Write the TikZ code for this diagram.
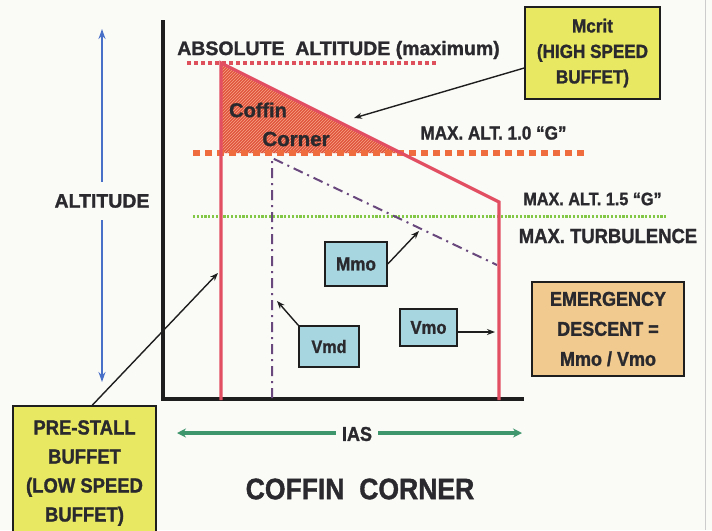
\documentclass[tikz,border=0pt]{standalone}
\usepackage{fontspec}
\setmainfont{Liberation Sans}[BoldFeatures={FakeBold=1.3}]
\newfontfamily\narrowbold{Liberation Sans}[BoldFeatures={FakeBold=1.3,FakeStretch=0.9}]
\usetikzlibrary{arrows.meta,patterns,calc}
\definecolor{bgc}{RGB}{250,250,247}
\definecolor{txt}{RGB}{42,42,46}
\definecolor{envred}{RGB}{226,78,98}
\definecolor{absred}{RGB}{222,80,92}
\definecolor{orng}{RGB}{238,108,62}
\definecolor{grn}{RGB}{130,200,70}
\definecolor{hatchc}{RGB}{226,84,60}
\definecolor{hatchl}{RGB}{246,165,135}
\definecolor{ylw}{RGB}{232,232,98}
\definecolor{lblue}{RGB}{168,214,224}
\definecolor{tanc}{RGB}{240,202,142}
\definecolor{bluear}{RGB}{72,112,200}
\definecolor{iasg}{RGB}{62,150,108}
\definecolor{ddc}{RGB}{105,72,125}
\definecolor{axc}{RGB}{30,30,30}
\newcommand\fsz[2]{\fontsize{#1}{#2}\selectfont\bfseries}
\newcommand\nsz[2]{\narrowbold\fontsize{#1}{#2}\selectfont\bfseries}
\begin{document}
\begin{tikzpicture}[x=1pt,y=-1pt,
  lbl/.style={text=txt, inner sep=0pt},
  infobox/.style={draw=axc, line width=1.5pt, align=center, text=txt, inner sep=0pt},
  ptr/.style={draw=axc, line width=1.4pt, -{Stealth[length=8pt,width=6pt]}},
  envline/.style={draw=envred, line width=3.2pt, line join=miter},
  ddline/.style={draw=ddc, line width=2pt, dash pattern=on 10pt off 5pt on 2pt off 5pt}]
\useasboundingbox (0,0) rectangle (712,530);
\fill[bgc] (0,0) rectangle (712,530);
\draw[black!20, line width=1pt] (705,0) -- (705,530);

% coordinates of the envelope
\coordinate (axTop) at (163,20);
\coordinate (axCorner) at (163,399);
\coordinate (axRight) at (524,399);
\coordinate (lBot) at (221,400);
\coordinate (lTop) at (221,63);
\coordinate (rTop) at (499,202);
\coordinate (rBot) at (499,400);
\coordinate (hatchB) at (221,153);
\coordinate (hatchR) at (400,153);

% hatched coffin corner
\fill[hatchc] (lTop) -- (hatchB) -- (hatchR) -- cycle;
\fill[pattern=north east lines, pattern color=hatchl] (lTop) -- (hatchB) -- (hatchR) -- cycle;

% dotted altitude lines
\coordinate (absL) at (187,63);
\coordinate (absR) at (438,63);
\draw[absred, line width=4pt, dash pattern=on 4pt off 3pt] (absL) -- (absR);
\coordinate (g1L) at (193,153);
\coordinate (g1R) at (584,153);
\draw[orng, line width=5.5pt, dash pattern=on 7pt off 5pt] (g1L) -- (g1R);
\coordinate (g15L) at (193,216);
\coordinate (g15R) at (666,216);
\draw[grn, line width=3pt, dash pattern=on 2.2pt off 1.6pt] (g15L) -- (g15R);

% axes
\draw[axc, line width=4pt, line join=miter] (axTop) -- (axCorner) -- (axRight);

% dash-dot lines
\coordinate (ddBot) at (272,398);
\coordinate (ddTop) at (272,158);
\coordinate (ddEnd) at (497,265);
\draw[ddline] (ddBot) -- (ddTop) -- (ddEnd);

% envelope
\draw[envline] (lBot) -- (lTop) -- (rTop) -- (rBot);

% texts
\node[lbl, font=\fsz{19.5}{22}] (abs) at (338.5,50) {ABSOLUTE\ \ ALTITUDE (maximum)};
\node[lbl, font=\nsz{19}{20}] (g10) at (493.5,133) {MAX. ALT. 1.0 “G”};
\node[lbl, font=\nsz{18}{20}] (g15) at (592.5,199) {MAX. ALT. 1.5 “G”};
\node[lbl, font=\nsz{20.5}{22}] (turb) at (608,236) {MAX. TURBULENCE};
\node[lbl, font=\fsz{20}{22}] (coffin) at (258,110) {Coffin};
\node[lbl, font=\fsz{20.5}{22}] (corner) at (296,139) {Corner};
\node[lbl, font=\nsz{29.5}{30}] (title) at (360,489) {COFFIN\ \ CORNER};

% altitude arrow
\node[lbl, font=\fsz{19.5}{22}, inner ysep=12pt] (alt) at (102,201) {ALTITUDE};
\coordinate (altTop) at (102,29);
\coordinate (altBot) at (102,382);
\draw[bluear, line width=2.6pt, -{Stealth[length=10pt,width=7pt]}] (alt.north) -- (altTop);
\draw[bluear, line width=2.6pt, -{Stealth[length=10pt,width=7pt]}] (alt.south) -- (altBot);

% IAS arrow
\node[lbl, font=\nsz{20}{22}, inner xsep=6pt] (ias) at (357,434) {IAS};
\coordinate (iasL) at (177,433);
\coordinate (iasR) at (522,433);
\draw[iasg, line width=3.5pt, -{Stealth[length=9pt,width=9pt]}] (ias.west |- iasL) -- (iasL);
\draw[iasg, line width=3.5pt, -{Stealth[length=9pt,width=9pt]}] (ias.east |- iasR) -- (iasR);

% boxes
\node[infobox, fill=ylw, minimum width=135, minimum height=92, font=\nsz{19}{25.5}] (mcrit) at (592.5,53) {Mcrit\\(HIGH SPEED\\BUFFET)};
\node[infobox, fill=ylw, minimum width=143, minimum height=134, font=\nsz{20.5}{29}] (pre) at (84.5,473) {PRE-STALL\\BUFFET\\(LOW SPEED\\BUFFET)};
\node[infobox, fill=tanc, minimum width=152, minimum height=94, font=\nsz{20}{30}] (emer) at (608,329) {EMERGENCY\\DESCENT =\\Mmo / Vmo};
\node[infobox, fill=lblue, minimum width=62, minimum height=44, font=\nsz{19}{20}] (mmo) at (356,264) {Mmo};
\node[infobox, fill=lblue, minimum width=60, minimum height=41, font=\nsz{18}{20}] (vmd) at (329,346.5) {Vmd};
\node[infobox, fill=lblue, minimum width=57, minimum height=37, font=\nsz{18.5}{20}] (vmo) at (428.5,327.5) {Vmo};

% pointers
\coordinate (mcritT) at (354,118);
\draw[ptr] ($(mcrit.west)+(0,15)$) -- (mcritT);
\coordinate (mmoT) at (419,231);
\draw[ptr] (mmo.east) -- (mmoT);
\coordinate (vmdT) at (277,301);
\draw[ptr] (vmd.north west) -- (vmdT);
\coordinate (vmoT) at (495,332);
\draw[ptr] (vmo.east |- vmoT) -- (vmoT);
\coordinate (preT) at (218,273);
\draw[ptr] ($(pre.north west)+(80,0)$) -- (preT);
\end{tikzpicture}
\end{document}
